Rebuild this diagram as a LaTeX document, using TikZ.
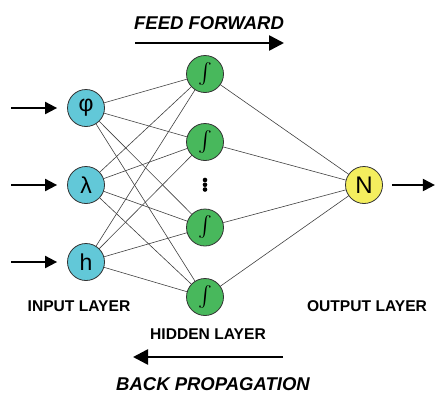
\documentclass[tikz,border=0pt]{standalone}
\usepackage{exscale}
\usepackage{fontspec}
\setmainfont{Liberation Sans}
\usepackage{xcolor}
\usetikzlibrary{positioning,arrows.meta}

\definecolor{inputcol}{RGB}{98,200,216}
\definecolor{hiddencol}{RGB}{72,184,92}
\definecolor{outputcol}{RGB}{244,238,94}

\begin{document}
\begin{tikzpicture}[%Network
  x=1pt, y=-1pt, on grid,
  inputnode/.style={circle, draw=black!80, line width=0.8pt, fill=inputcol, minimum size=37pt, inner sep=0pt, font=\fontsize{23}{23}\selectfont},
  hiddennode/.style={circle, draw=black!80, line width=0.8pt, fill=hiddencol, minimum size=37pt, inner sep=0pt, font=\fontsize{20.74}{20.74}\selectfont},
  outputnode/.style={circle, draw=black!80, line width=0.8pt, fill=outputcol, minimum size=37pt, inner sep=0pt, font=\fontsize{24}{24}\selectfont},
  layerlabel/.style={font=\bfseries\fontsize{15.6}{15.6}\selectfont},
  titlelabel/.style={font=\bfseries\itshape\fontsize{18.5}{18.5}\selectfont},
  link/.style={line width=0.6pt, black!75},
  inarrow/.style={line width=2pt, -{Triangle[length=12pt,width=12pt]}},
  bigarrow/.style={line width=2.6pt, -{Triangle[length=15pt,width=15pt]}},
  dotnode/.style={fill,inner sep=0pt,minimum size=4.6pt,circle}
]
\useasboundingbox (0,0) rectangle (435,394);

%Input layer
\node[inputnode] (phi) at (86,108) {φ};
\node[inputnode, below=77pt of phi] (lambda) {λ};
\node[inputnode, below=77pt of lambda] (h) {h};

%Hidden layer
\node[hiddennode] (s1) at (205,74) {$\int$};
\node[hiddennode, below=68pt of s1] (s2) {$\int$};
\node[hiddennode, below=85.5pt of s2] (s3) {$\int$};
\node[hiddennode, below=69.5pt of s3] (s4) {$\int$};

%Output layer
\node[outputnode, right=278pt of lambda] (out) {N};

%Labels
\node[layerlabel] (inlabel) at (79,306) {INPUT LAYER};
\node[layerlabel] (hidlabel) at (208,334) {HIDDEN LAYER};
\node[layerlabel] (outlabel) at (367,306) {OUTPUT LAYER};
\node[titlelabel] (fflabel) at (209,23) {FEED FORWARD};
\node[titlelabel] (bplabel) at (213,384) {BACK PROPAGATION};

%Links
\foreach \i in {phi,lambda,h}
  \foreach \j in {s1,s2,s3,s4}
    \draw[link] (\i) -- (\j);
\foreach \j in {s1,s2,s3,s4}
  \draw[link] (\j) -- (out);

%Arrows
\foreach \i in {phi,lambda,h}
  \draw[inarrow] ([xshift=-56pt]\i.west) -- ([xshift=-10pt]\i.west);
\draw[inarrow] ([xshift=9pt]out.east) -- ([xshift=52pt]out.east);

\coordinate (ffa) at (135,43);
\coordinate (ffb) at (284,43);
\coordinate (bpa) at (283,357);
\coordinate (bpb) at (133,357);
\draw[bigarrow] (ffa) -- (ffb);
\draw[bigarrow] (bpa) -- (bpb);

\path (s2) --
  node[dotnode,pos=0.4]{}
  node[dotnode,pos=0.5]{}
  node[dotnode,pos=0.6]{}
  (s3);
\end{tikzpicture}
\end{document}
